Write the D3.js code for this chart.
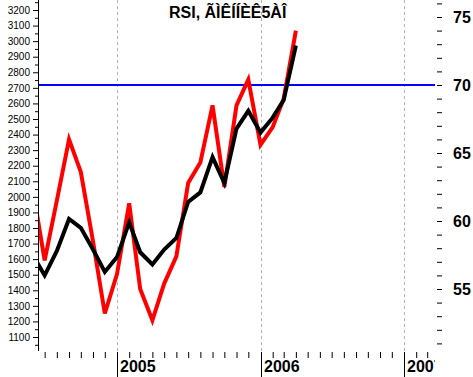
<!DOCTYPE html>
<html>
<head>
<meta charset="utf-8">
<script src="https://cdn.jsdelivr.net/npm/d3@7"></script>
<style>
  body { margin: 0; background: #fff; }
  svg { display: block; font-family: "Liberation Sans", Arial, sans-serif; }
</style>
</head>
<body>
<div id="chart"></div>
<script>
// monthly points
var months = ["2004-06", "2004-07", "2004-08", "2004-09", "2004-10", "2004-11", "2004-12",
              "2005-01", "2005-02", "2005-03", "2005-04", "2005-05", "2005-06", "2005-07",
              "2005-08", "2005-09", "2005-10", "2005-11", "2005-12",
              "2006-01", "2006-02", "2006-03", "2006-04"];
var rsiRed = [62.3, 57.1, 61.5, 66.0, 63.6, 58.5, 53.2,
              56.1, 61.3, 55.0, 52.7, 55.4, 57.4, 62.8,
              64.3, 68.5, 62.5, 68.5, 70.4,
              65.6, 66.9, 69.0, 74.0];
var rsiBlack = [57.5, 56.0, 57.8, 60.15, 59.5, 57.9, 56.25,
                57.35, 59.9, 57.7, 56.8, 57.9, 58.75, 61.4,
                62.1, 64.7, 62.8, 66.8, 68.1,
                66.5, 67.6, 68.9, 72.9];
var leftTicks = d3.range(1050, 3251, 50);   // labels on the hundreds
var rightTicks = d3.range(51, 77, 1);        // labels every 5
var years = ["2005", "2006", "2007"];
var level = 70;
var title = "RSI, ÃÌÊÍÍÈÊ5ÀÎ";

var width = 473, height = 377;
var left = 38, right = 435, bottom = 351;

var parse = d3.timeParse("%Y-%m");
var redData = months.map(function (m, i) { return { date: parse(m), v: rsiRed[i] }; });
var blackData = months.map(function (m, i) { return { date: parse(m), v: rsiBlack[i] }; });

var svg = d3.select("#chart").append("svg")
    .attr("width", width)
    .attr("height", height);

// Scales
var x = d3.scaleTime()
    .domain([new Date(2005, 0, 1), new Date(2007, 0, 1)])
    .range([117, 404]);
var yLeft = d3.scaleLinear().domain([1100, 3200]).range([337, 10]);
var yRight = d3.scaleLinear().domain([55, 75]).range([289, 17]);

svg.append("clipPath").attr("id", "plot")
  .append("rect").attr("x", left).attr("y", 0).attr("width", right - left).attr("height", bottom);
svg.append("clipPath").attr("id", "xlab")
  .append("rect").attr("x", 0).attr("y", 0).attr("width", right).attr("height", height);

// year grid lines
svg.append("g").selectAll("line")
    .data(years)
    .enter().append("line")
    .attr("x1", function (d) { return Math.round(x(parse(d + "-01"))) + 0.5; })
    .attr("x2", function (d) { return Math.round(x(parse(d + "-01"))) + 0.5; })
    .attr("y1", 0).attr("y2", bottom)
    .attr("stroke", "#b4b4b4")
    .attr("stroke-dasharray", "3,3");

// level line
svg.append("line")
    .attr("x1", left).attr("x2", right)
    .attr("y1", yRight(level)).attr("y2", yRight(level))
    .attr("stroke", "#0000ff")
    .attr("stroke-width", 2);

// Lines
var line = d3.line()
    .x(function (d) { return x(d.date); })
    .y(function (d) { return yRight(d.v); });
var plot = svg.append("g").attr("clip-path", "url(#plot)");
plot.append("path").datum(redData)
    .attr("d", line)
    .attr("fill", "none")
    .attr("stroke", "#ff0000")
    .attr("stroke-width", 4);
plot.append("path").datum(blackData)
    .attr("d", line)
    .attr("fill", "none")
    .attr("stroke", "#000000")
    .attr("stroke-width", 4);

// left axis
var la = svg.append("g")
    .attr("transform", "translate(" + left + ",0)")
    .call(d3.axisLeft(yLeft)
        .tickValues(leftTicks)
        .tickSize(5)
        .tickPadding(3)
        .tickFormat(function (d) { return d % 100 === 0 ? d : ""; }));
la.select(".domain").remove();
la.selectAll(".tick line").attr("x2", function (d) { return d % 100 === 0 ? -5 : -3; });
la.selectAll("text").attr("font-size", 10).attr("fill", "#000").attr("font-family", "Liberation Sans, Arial");
svg.append("line")
    .attr("x1", left + 0.5).attr("x2", left + 0.5)
    .attr("y1", 0).attr("y2", bottom)
    .attr("stroke", "#000");

// right axis
var ra = svg.append("g")
    .attr("transform", "translate(437,0)")
    .call(d3.axisRight(yRight)
        .tickValues(rightTicks)
        .tickSize(5)
        .tickPadding(11)
        .tickFormat(function (d) { return d % 5 === 0 ? d : ""; }));
ra.select(".domain").remove();
ra.selectAll("text")
    .attr("font-size", 16)
    .attr("font-weight", "bold")
    .attr("fill", "#000")
    .attr("font-family", "Liberation Sans, Arial");

// bottom axis: month ticks
var monthTicks = x.ticks(d3.timeMonth.every(1)).filter(function (d) { return d.getMonth() !== 0; });
var allMonths = d3.timeMonth.range(x.invert(left), x.invert(right))
    .filter(function (d) { return d.getMonth() !== 0; });
var ba = svg.append("g")
    .attr("transform", "translate(0," + (bottom + 1) + ")")
    .call(d3.axisBottom(x).tickValues(allMonths).tickSize(6).tickFormat(""));
ba.select(".domain").remove();

// year marks and labels
var yg = svg.append("g").attr("clip-path", "url(#xlab)");
years.forEach(function (yr) {
    var px = Math.round(x(parse(yr + "-01"))) + 0.5;
    yg.append("line")
        .attr("x1", px).attr("x2", px)
        .attr("y1", bottom + 1).attr("y2", height)
        .attr("stroke", "#000");
    yg.append("text")
        .attr("x", px + 2.5)
        .attr("y", 372)
        .attr("font-size", 16)
        .attr("font-weight", "bold")
        .text(yr);
});

// title
svg.append("text")
    .attr("x", 169)
    .attr("y", 18)
    .attr("font-size", 16)
    .attr("font-weight", "bold")
    .text(title);
</script>
</body>
</html>
